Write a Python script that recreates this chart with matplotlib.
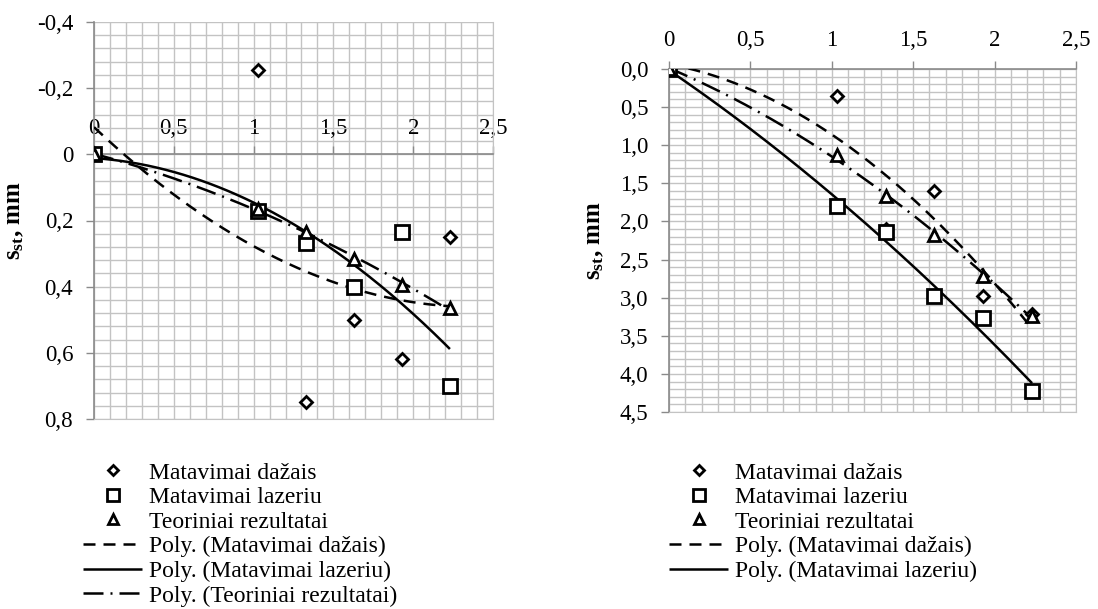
import numpy as np
import matplotlib
matplotlib.use('Agg')
import matplotlib.pyplot as plt
from matplotlib.ticker import MultipleLocator, FuncFormatter

plt.rcParams['font.family'] = ['Liberation Serif', 'DejaVu Serif']
plt.rcParams['font.size'] = 16.5
plt.rcParams['mathtext.fontset'] = 'custom'
plt.rcParams['mathtext.rm'] = 'Liberation Serif'
plt.rcParams['mathtext.bf'] = 'Liberation Serif:bold'
plt.rcParams['mathtext.it'] = 'Liberation Serif:italic'

# apkrovos reikšmės (x ašis)
x = [0, 1.03, 1.33, 1.63, 1.93, 2.23]

# kairysis grafikas
dazais_1 = [0, -0.255, 0.75, 0.50, 0.62, 0.25]
lazeriu_1 = [0, 0.171, 0.267, 0.40, 0.236, 0.70]
teor_1 = [0, 0.165, 0.235, 0.315, 0.395, 0.465]

# dešinysis grafikas
dazais_2 = [0, 0.354, 2.10, 1.60, 2.975, 3.22]
lazeriu_2 = [0, 1.80, 2.14, 2.98, 3.27, 4.22]
teor_2 = [0, 1.13, 1.66, 2.18, 2.71, 3.24]

names = ['Matavimai dažais', 'Matavimai lazeriu', 'Teoriniai rezultatai']

GRID = '#c3c3c3'
AXIS = '#8a8a8a'


def comma(v, pos=None, fmt='%g'):
    s = fmt % v
    if s in ('-0', '-0,0', '-0.0'):
        s = s[1:]
    return s.replace('.', ',')


def trend(ax, yy, style, label):
    # 2 laipsnio polinominė tendencijos linija
    xs = np.linspace(0, max(x), 200)
    p = np.polyfit(x, yy, 2)
    line, = ax.plot(xs, np.polyval(p, xs), color='black', lw=1.8, label=label, zorder=3)
    line.set_dashes(style)
    return line


def points(ax, yy, mk, ms, label):
    h, = ax.plot(x, yy, ls='none', marker=mk, ms=ms, mfc='white', mec='black',
                 mew=2, label=label, zorder=4)
    return h


def setup(ax):
    ax.xaxis.set_major_locator(MultipleLocator(0.5))
    ax.xaxis.set_minor_locator(MultipleLocator(0.1))
    ax.xaxis.set_major_formatter(FuncFormatter(comma))
    ax.set_xlim(0, 2.5)
    ax.grid(which='both', color=GRID, lw=1, zorder=0)
    ax.set_axisbelow(True)
    ax.xaxis.tick_top()
    ax.tick_params(which='major', direction='out', color=AXIS, length=6, width=1)
    ax.tick_params(which='minor', length=0)
    for s in ['bottom', 'right']:
        ax.spines[s].set_color(GRID)
    for s in ['left', 'top']:
        ax.spines[s].set_color(AXIS)
        ax.spines[s].set_linewidth(1.2)


DASH = (4.8, 3.2)
DASHDOT = (8, 2.8, 0.8, 2.8)

fig = plt.figure(figsize=(10.98, 6.09), dpi=100)

# ---- kairysis ----
ax1 = fig.add_axes([94/1098, 1-419/609, 399/1098, 397/609])
setup(ax1)
ax1.set_ylim(0.8, -0.4)
ax1.yaxis.set_major_locator(MultipleLocator(0.2))
ax1.yaxis.set_minor_locator(MultipleLocator(0.04))
ax1.yaxis.set_major_formatter(FuncFormatter(comma))
ax1.spines['top'].set_position(('data', 0))
ax1.tick_params(axis='x', pad=5)
ax1.tick_params(axis='y', pad=9)

h1 = [points(ax1, dazais_1, 'D', 6, names[0]),
      points(ax1, lazeriu_1, 's', 10, names[1]),
      points(ax1, teor_1, '^', 8, names[2])]
l1 = [trend(ax1, dazais_1, DASH, 'Poly. (' + names[0] + ')'),
      trend(ax1, lazeriu_1, (1, 0), 'Poly. (' + names[1] + ')'),
      trend(ax1, teor_1, DASHDOT, 'Poly. (' + names[2] + ')')]
ax1.set_ylabel(r'$\mathbf{s_{st}}$, mm', fontweight='bold', fontsize=18)
ax1.yaxis.set_label_coords(-0.17, 0.5)

# ---- dešinysis ----
ax2 = fig.add_axes([669/1098, 1-412/609, 407/1098, 343/609])
setup(ax2)
ax2.set_ylim(4.5, 0)
ax2.yaxis.set_major_locator(MultipleLocator(0.5))
ax2.yaxis.set_minor_locator(MultipleLocator(0.1))
ax2.yaxis.set_major_formatter(FuncFormatter(lambda v, p: comma(v, p, '%.1f')))
ax2.tick_params(axis='x', pad=7)
ax2.tick_params(axis='y', pad=9)

h2 = [points(ax2, dazais_2, 'D', 6, names[0]),
      points(ax2, lazeriu_2, 's', 10, names[1]),
      points(ax2, teor_2, '^', 8, names[2])]
l2 = [trend(ax2, dazais_2, DASH, 'Poly. (' + names[0] + ')'),
      trend(ax2, lazeriu_2, (1, 0), 'Poly. (' + names[1] + ')')]
trend(ax2, teor_2, DASHDOT, 'Poly. (' + names[2] + ')')
ax2.set_ylabel(r'$\mathbf{s_{st}}$, mm', fontweight='bold', fontsize=18)
ax2.yaxis.set_label_coords(-0.155, 0.5)

leg_kw = dict(frameon=False, loc='upper left', borderpad=0, borderaxespad=0,
              handlelength=2.5, handletextpad=0.3, labelspacing=0.13,
              numpoints=1, fontsize=17, markerscale=0.85)
fig.legend(h1 + l1, [h.get_label() for h in h1 + l1],
           bbox_to_anchor=(83/1098, 1-462/609), **leg_kw)
fig.legend(h2 + l2, [h.get_label() for h in h2 + l2],
           bbox_to_anchor=(669/1098, 1-462/609), **leg_kw)

fig.savefig('out.png', dpi=100)
